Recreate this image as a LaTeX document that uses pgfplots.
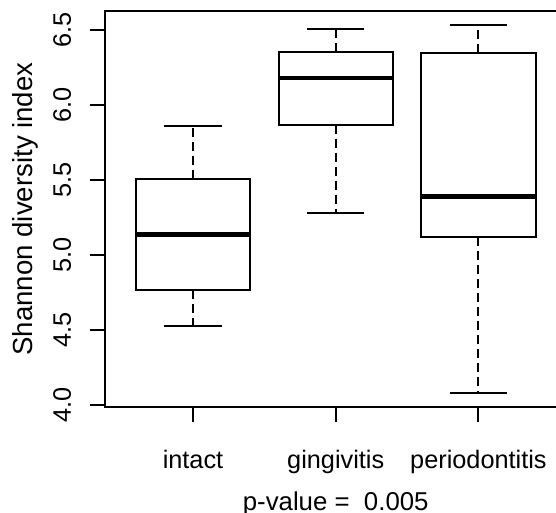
\documentclass[border=0pt]{standalone}
\usepackage{pgfplots}
\pgfplotsset{compat=1.18}
\usepgfplotslibrary{statistics}
\usepackage{fontspec}
\setmainfont{Liberation Sans}

% R style whisker: dashed stem, solid cap
\pgfplotsset{
  rwhisker/.style={
    boxplot/draw/whisker/.code 2 args={%
      \draw[black, line width=1pt, dash pattern=on 4.5pt off 2.5pt]
        (boxplot box cs:##1,0.5) -- (boxplot box cs:##2,0.5);
      \draw[black, line width=1pt]
        (boxplot whisker cs:##2,0) -- (boxplot whisker cs:##2,1);
    },
  },
}

\begin{document}
\fontsize{12.65pt}{15pt}\selectfont
\begin{tikzpicture}
\path[use as bounding box] (-52.25pt,-52.8pt) rectangle (225.75pt,203.7pt);
\begin{axis}[
  at={(0,0)}, anchor=south west,
  scale only axis,
  width=231.2pt, height=198.4pt,
  xmin=0.38, xmax=3.62,
  ymin=3.984, ymax=6.629,
  axis line style={line width=1pt},
  every tick/.style={black, line width=1pt},
  tick align=outside,
  major tick length=7.5pt,
  xtick={1,2,3},
  xticklabels={intact, gingivitis, periodontitis},
  ytick={4,4.5,5,5.5,6,6.5},
  xtick pos=bottom, ytick pos=left,
  xticklabel style={anchor=base, yshift=-22.95pt},
  yticklabel style={xshift=-9.3pt, rotate=90, anchor=base},
  /pgf/number format/.cd, fixed, fixed zerofill, precision=1, assume math mode=true,
  /pgfplots/.cd,
  xlabel={p-value = \ 0.005},
  xlabel style={at={([yshift=-51.55pt]axis description cs:0.5,0)}, anchor=base,
    font=\fontsize{12.9pt}{15pt}\selectfont},
  ylabel={Shannon diversity index},
  ylabel style={at={([xshift=-35.85pt]axis description cs:0,0.5)}, anchor=base, rotate=0,
    font=\fontsize{13.8pt}{16pt}\selectfont},
  boxplot/draw direction=y,
  boxplot/box extend=0.8,
  boxplot/whisker extend=0.4,
  boxplot/every median/.style={line width=2.4pt},
  rwhisker,
]
\addplot[black, line width=1pt, boxplot prepared={draw position=1,
  lower whisker=4.527, lower quartile=4.767, median=5.135,
  upper quartile=5.505, upper whisker=5.862}] coordinates {};
\addplot[black, line width=1pt, boxplot prepared={draw position=2,
  lower whisker=5.282, lower quartile=5.869, median=6.180,
  upper quartile=6.353, upper whisker=6.505}] coordinates {};
\addplot[black, line width=1pt, boxplot prepared={draw position=3,
  lower whisker=4.082, lower quartile=5.120, median=5.389,
  upper quartile=6.349, upper whisker=6.531}] coordinates {};
\end{axis}
\end{tikzpicture}
\end{document}
